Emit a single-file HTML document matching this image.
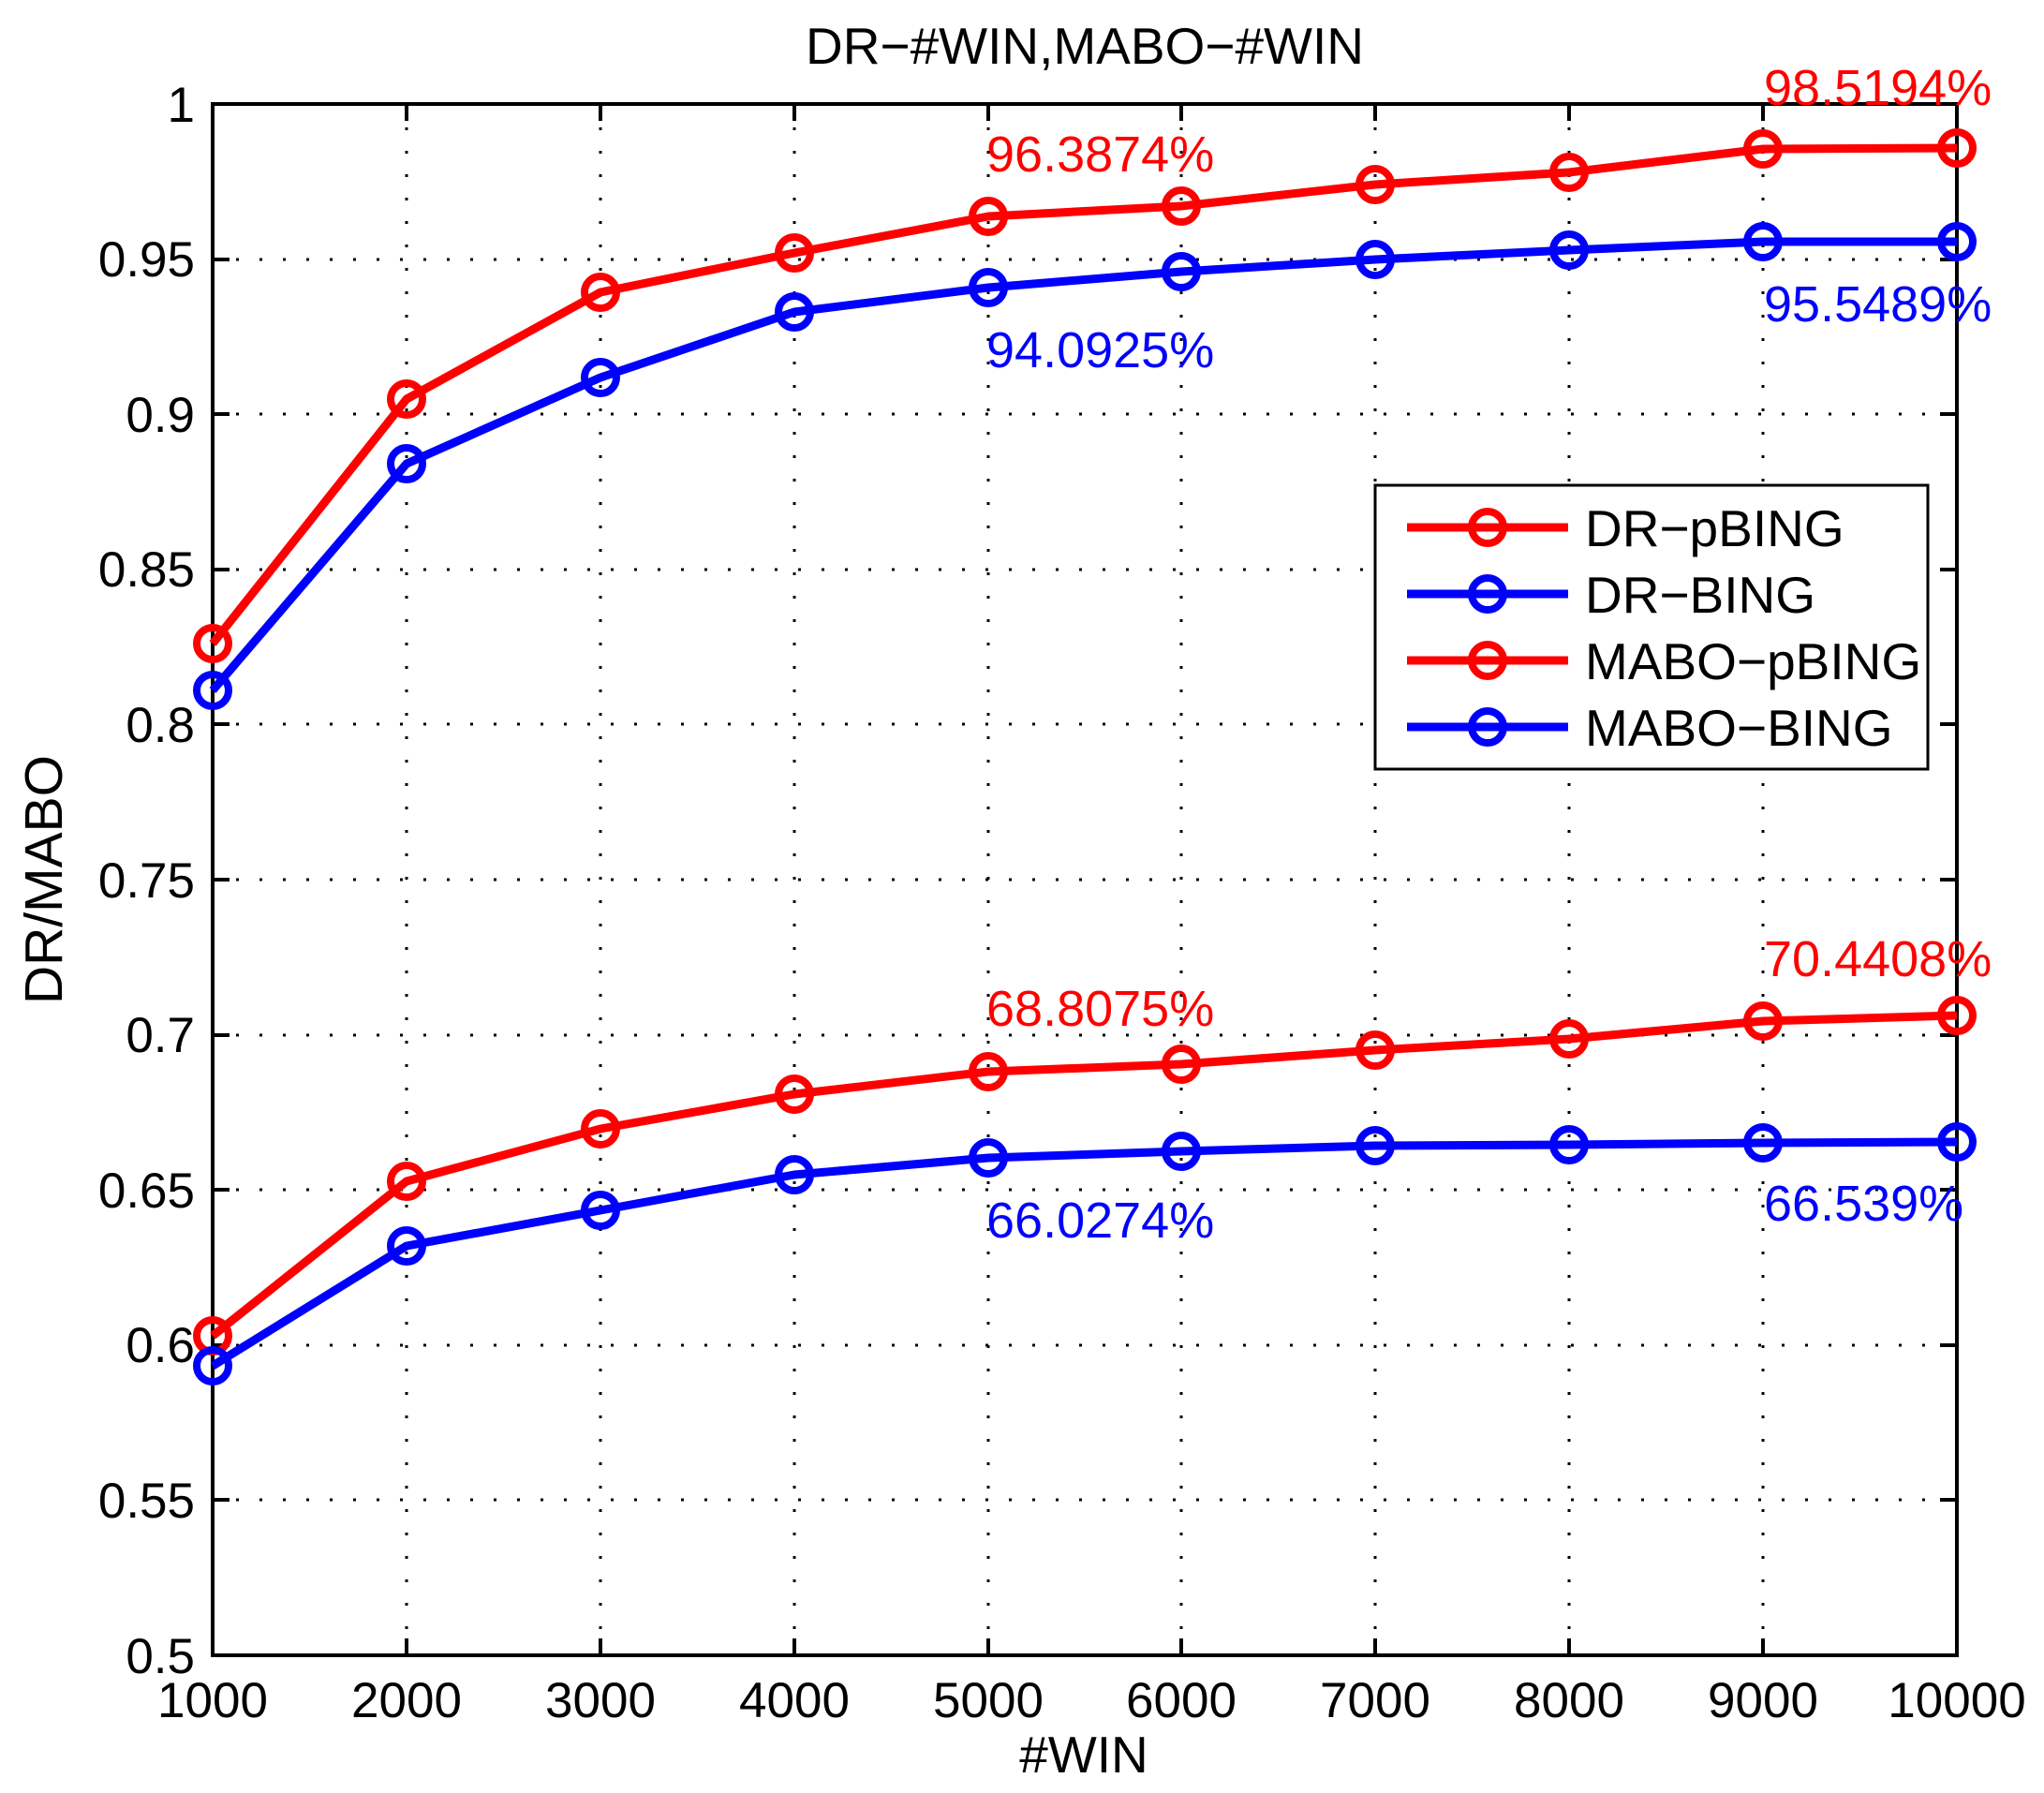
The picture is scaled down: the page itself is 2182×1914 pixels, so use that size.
<!DOCTYPE html>
<html><head><meta charset="utf-8"><style>html,body{margin:0;padding:0;background:#fff}svg{display:block}</style></head>
<body>
<svg width="2182" height="1914" viewBox="0 0 2182 1914" xmlns="http://www.w3.org/2000/svg" font-family="Liberation Sans, Arial, sans-serif">
<rect width="2182" height="1914" fill="#fff"/>
<g stroke="#000" stroke-width="3" stroke-dasharray="3 22">
<line x1="434" y1="111" x2="434" y2="1767"/><line x1="641" y1="111" x2="641" y2="1767"/><line x1="848" y1="111" x2="848" y2="1767"/><line x1="1055" y1="111" x2="1055" y2="1767"/><line x1="1261" y1="111" x2="1261" y2="1767"/><line x1="1468" y1="111" x2="1468" y2="1767"/><line x1="1675" y1="111" x2="1675" y2="1767"/><line x1="1882" y1="111" x2="1882" y2="1767"/>
<line x1="227" y1="277" x2="2089" y2="277"/><line x1="227" y1="442" x2="2089" y2="442"/><line x1="227" y1="608" x2="2089" y2="608"/><line x1="227" y1="773" x2="2089" y2="773"/><line x1="227" y1="939" x2="2089" y2="939"/><line x1="227" y1="1105" x2="2089" y2="1105"/><line x1="227" y1="1270" x2="2089" y2="1270"/><line x1="227" y1="1436" x2="2089" y2="1436"/><line x1="227" y1="1601" x2="2089" y2="1601"/>
</g>
<g stroke="#000" stroke-width="4">
<path d="M434 111v18M641 111v18M848 111v18M1055 111v18M1261 111v18M1468 111v18M1675 111v18M1882 111v18M434 1767v-18M641 1767v-18M848 1767v-18M1055 1767v-18M1261 1767v-18M1468 1767v-18M1675 1767v-18M1882 1767v-18"/>
<path d="M227 277h18M227 442h18M227 608h18M227 773h18M227 939h18M227 1105h18M227 1270h18M227 1436h18M227 1601h18M2089 277h-18M2089 442h-18M2089 608h-18M2089 773h-18M2089 939h-18M2089 1105h-18M2089 1270h-18M2089 1436h-18M2089 1601h-18"/>
<rect x="227" y="111" width="1862" height="1656" fill="none"/>
</g>
<g fill="none" stroke-width="9" stroke-linejoin="round">
<polyline stroke="#f00" points="227,687 434,426 641,312 848,270 1055,231 1261,220 1468,197 1675,184 1882,159 2089,158"/>
<polyline stroke="#00f" points="227,737 434,495 641,403 848,333 1055,307 1261,290 1468,277 1675,267 1882,258 2089,258"/>
<polyline stroke="#f00" points="227,1426 434,1261 641,1205 848,1168 1055,1144 1261,1136 1468,1121 1675,1109 1882,1090 2089,1084"/>
<polyline stroke="#00f" points="227,1458 434,1330 641,1292 848,1254 1055,1236 1261,1229 1468,1223 1675,1222 1882,1220 2089,1219"/>
</g>
<g fill="none" stroke-width="8">
<g stroke="#f00">
<circle cx="227" cy="687" r="17"/><circle cx="434" cy="426" r="17"/><circle cx="641" cy="312" r="17"/><circle cx="848" cy="270" r="17"/><circle cx="1055" cy="231" r="17"/><circle cx="1261" cy="220" r="17"/><circle cx="1468" cy="197" r="17"/><circle cx="1675" cy="184" r="17"/><circle cx="1882" cy="159" r="17"/><circle cx="2089" cy="158" r="17"/>
<circle cx="227" cy="1426" r="17"/><circle cx="434" cy="1261" r="17"/><circle cx="641" cy="1205" r="17"/><circle cx="848" cy="1168" r="17"/><circle cx="1055" cy="1144" r="17"/><circle cx="1261" cy="1136" r="17"/><circle cx="1468" cy="1121" r="17"/><circle cx="1675" cy="1109" r="17"/><circle cx="1882" cy="1090" r="17"/><circle cx="2089" cy="1084" r="17"/>
</g>
<g stroke="#00f">
<circle cx="227" cy="737" r="17"/><circle cx="434" cy="495" r="17"/><circle cx="641" cy="403" r="17"/><circle cx="848" cy="333" r="17"/><circle cx="1055" cy="307" r="17"/><circle cx="1261" cy="290" r="17"/><circle cx="1468" cy="277" r="17"/><circle cx="1675" cy="267" r="17"/><circle cx="1882" cy="258" r="17"/><circle cx="2089" cy="258" r="17"/>
<circle cx="227" cy="1458" r="17"/><circle cx="434" cy="1330" r="17"/><circle cx="641" cy="1292" r="17"/><circle cx="848" cy="1254" r="17"/><circle cx="1055" cy="1236" r="17"/><circle cx="1261" cy="1229" r="17"/><circle cx="1468" cy="1223" r="17"/><circle cx="1675" cy="1222" r="17"/><circle cx="1882" cy="1220" r="17"/><circle cx="2089" cy="1219" r="17"/>
</g>
</g>
<g font-size="54" fill="#f00">
<text x="1053" y="183">96.3874%</text><text x="1883" y="112">98.5194%</text><text x="1053" y="1095">68.8075%</text><text x="1883" y="1042">70.4408%</text>
</g>
<g font-size="54" fill="#00f">
<text x="1053" y="392">94.0925%</text><text x="1883" y="343">95.5489%</text><text x="1053" y="1321">66.0274%</text><text x="1883" y="1303">66.539%</text>
</g>
<g font-size="53" fill="#000" text-anchor="end">
<text x="208" y="130">1</text><text x="208" y="295">0.95</text><text x="208" y="461">0.9</text><text x="208" y="626">0.85</text><text x="208" y="792">0.8</text><text x="208" y="958">0.75</text><text x="208" y="1123">0.7</text><text x="208" y="1289">0.65</text><text x="208" y="1454">0.6</text><text x="208" y="1620">0.55</text><text x="208" y="1786">0.5</text>
</g>
<g font-size="53" fill="#000" text-anchor="middle">
<text x="227" y="1833">1000</text><text x="434" y="1833">2000</text><text x="641" y="1833">3000</text><text x="848" y="1833">4000</text><text x="1055" y="1833">5000</text><text x="1261" y="1833">6000</text><text x="1468" y="1833">7000</text><text x="1675" y="1833">8000</text><text x="1882" y="1833">9000</text><text x="2089" y="1833">10000</text>
<text x="1157" y="1892" font-size="55">#WIN</text>
<text x="1158" y="68" font-size="55">DR−#WIN,MABO−#WIN</text>
<text transform="translate(66,939) rotate(-90)" font-size="57">DR/MABO</text>
</g>
<rect x="1468" y="518" width="590" height="303" fill="#fff" stroke="#000" stroke-width="3"/>
<g stroke-width="9">
<line x1="1502" y1="563" x2="1674" y2="563" stroke="#f00"/><line x1="1502" y1="634" x2="1674" y2="634" stroke="#00f"/><line x1="1502" y1="705" x2="1674" y2="705" stroke="#f00"/><line x1="1502" y1="776" x2="1674" y2="776" stroke="#00f"/>
</g>
<g fill="none" stroke-width="8">
<circle cx="1588" cy="563" r="17" stroke="#f00"/><circle cx="1588" cy="634" r="17" stroke="#00f"/><circle cx="1588" cy="705" r="17" stroke="#f00"/><circle cx="1588" cy="776" r="17" stroke="#00f"/>
</g>
<g font-size="55" fill="#000">
<text x="1692" y="583">DR−pBING</text><text x="1692" y="654">DR−BING</text><text x="1692" y="725">MABO−pBING</text><text x="1692" y="796">MABO−BING</text>
</g>
</svg>
</body></html>
